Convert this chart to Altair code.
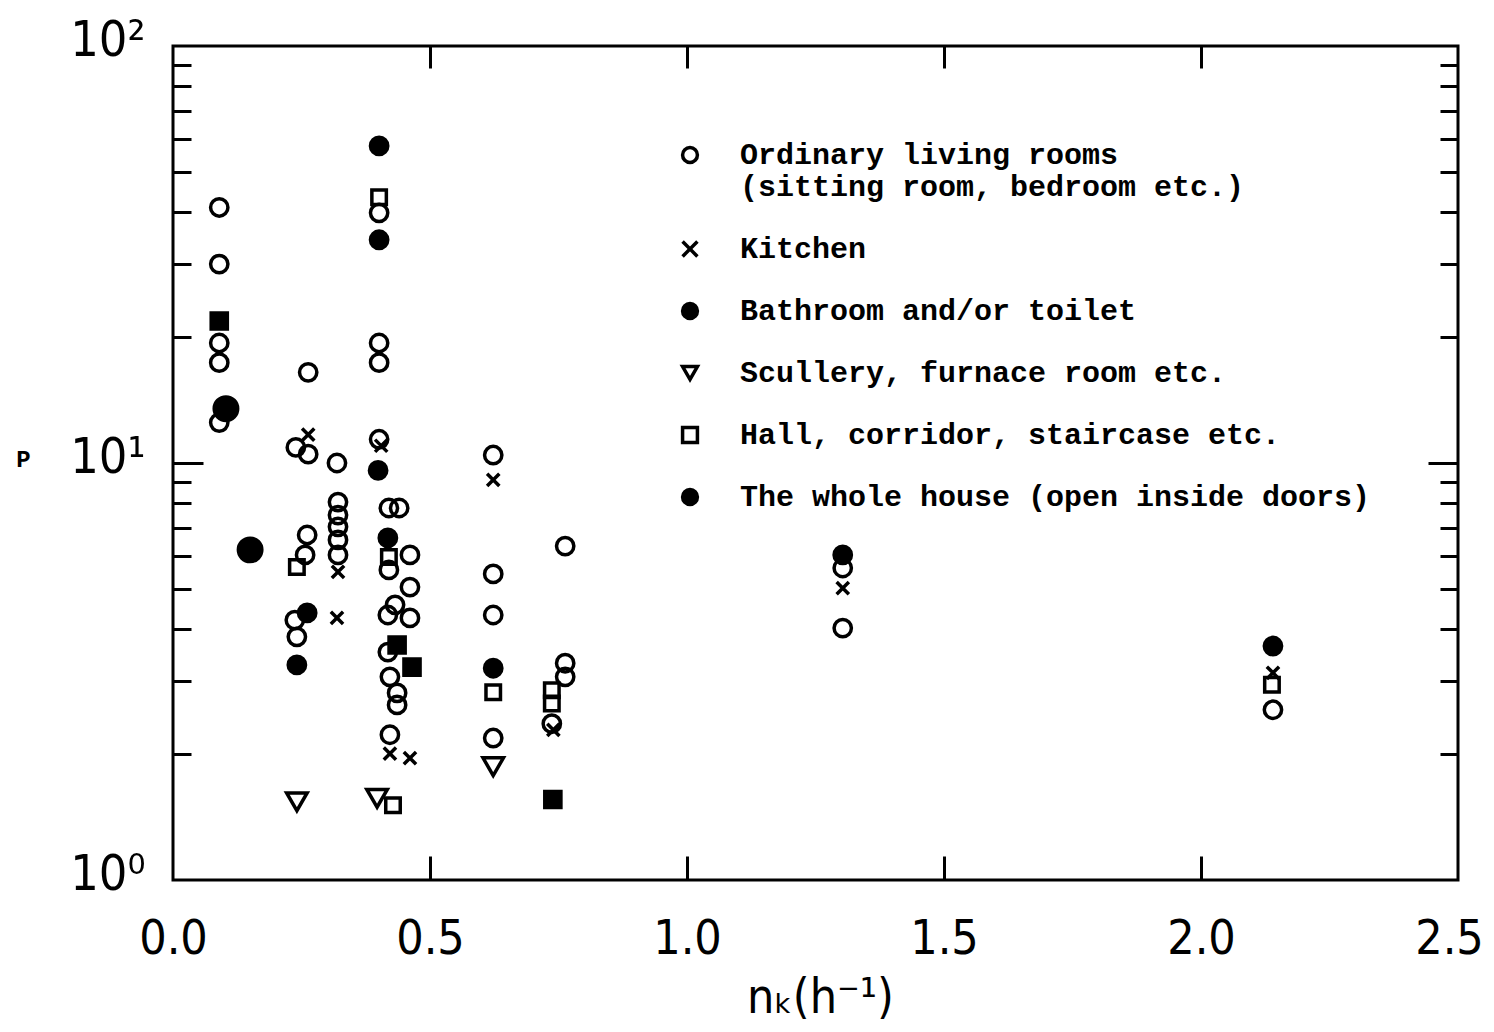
import altair as alt
import pandas as pd

# ---- data ----
living_x = [0.09, 0.09, 0.09, 0.09, 0.09, 0.239, 0.263, 0.263, 0.261, 0.257, 0.237, 0.241,
            0.319, 0.321, 0.321, 0.321, 0.321, 0.321, 0.401, 0.401, 0.401, 0.401,
            0.42, 0.44, 0.461, 0.42, 0.461, 0.432, 0.418, 0.461, 0.418, 0.422, 0.436, 0.436, 0.422,
            0.623, 0.623, 0.623, 0.623, 0.763, 0.763, 0.763, 0.737, 1.303, 1.303, 2.14]
living_y = [41.0, 30.0, 19.4, 17.4, 12.5, 10.9, 16.5, 10.5, 6.72, 6.02, 4.20, 3.83,
            10.0, 8.06, 7.50, 7.03, 6.54, 6.02, 39.8, 19.4, 17.4, 11.4,
            7.8, 7.8, 6.02, 5.54, 5.04, 4.57, 4.32, 4.25, 3.52, 3.07, 2.81, 2.63, 2.23,
            10.45, 5.42, 4.32, 2.19, 6.32, 3.31, 3.07, 2.37, 5.60, 4.02, 2.56]

kitchen_x = [0.263, 0.321, 0.319, 0.405, 0.422, 0.461, 0.623, 0.74, 1.303, 2.14]
kitchen_y = [11.7, 5.48, 4.25, 11.0, 2.01, 1.96, 9.11, 2.29, 5.01, 3.14]

bath_x = [0.401, 0.401, 0.399, 0.261, 0.241, 0.418, 0.623, 1.303, 2.14]
bath_y = [57.6, 34.3, 9.6, 4.37, 3.28, 6.61, 3.22, 6.02, 3.64]

scullery_x = [0.241, 0.397, 0.623]
scullery_y = [1.54, 1.57, 1.87]

hall_x = [0.241, 0.401, 0.42, 0.428, 0.623, 0.737, 0.737, 2.138]
hall_y = [5.63, 43.4, 5.95, 1.51, 2.82, 2.85, 2.65, 2.94]

house_x = [0.103, 0.150]
house_y = [13.5, 6.19]

filled_sq_x = [0.09, 0.436, 0.465, 0.739]
filled_sq_y = [21.9, 3.66, 3.24, 1.56]

x_ticks = [0.0, 0.5, 1.0, 1.5, 2.0]
x_last_tick = [2.5]
x_inner_ticks = [0.5, 1.0, 1.5, 2.0]
y_ticks = [1, 10, 100]
y_minor = [2, 3, 4, 5, 6, 7, 8, 9, 20, 30, 40, 50, 60, 70, 80, 90]

LIV = "Ordinary living rooms"
KIT = "Kitchen"
BAT = "Bathroom and/or toilet"
SCU = "Scullery, furnace room etc."
HAL = "Hall, corridor, staircase etc."
HOU = "The whole house (open inside doors)"
FSQ = "Filled square"

cats = [LIV, KIT, BAT, SCU, HAL, HOU, FSQ]
shapes = ["circle", "M-1,-1L1,1M1,-1L-1,1", "circle", "triangle-down", "square", "circle", "square"]
fills = ["transparent", "black", "black", "transparent", "transparent", "black", "black"]
strokes = ["black"] * 7

frames = []
for name, xs, ys in [(HAL, hall_x, hall_y), (SCU, scullery_x, scullery_y),
                     (KIT, kitchen_x, kitchen_y), (LIV, living_x, living_y),
                     (BAT, bath_x, bath_y), (FSQ, filled_sq_x, filled_sq_y),
                     (HOU, house_x, house_y)]:
    frames.append(pd.DataFrame({"x": xs, "y": ys, "cat": name}))
df = pd.concat(frames, ignore_index=True)

TICK_FONT = "Liberation Sans Narrow, DejaVu Sans Condensed, sans-serif"
LEG_FONT = "Liberation Mono, Courier New, monospace"

xscale = alt.Scale(domain=[0, 2.5], nice=False, zero=False)
yscale = alt.Scale(type="log", domain=[1, 100], nice=False)

leg = alt.Legend(
    title=None, orient="none", legendX=502, legendY=94, values=cats[:6],
    labelFont=LEG_FONT, labelFontSize=30, labelFontWeight="bold", labelColor="black",
    labelOffset=35, rowPadding=32, symbolStrokeColor="black", symbolStrokeWidth=3.5,
    symbolSize=220, labelLimit=0, padding=0,
    labelExpr="datum.label == 'Ordinary living rooms' ? ['Ordinary living rooms', '(sitting room, bedroom etc.)'] : datum.label",
)

size_enc = {
    "condition": [
        {"test": f"datum.cat == '{HOU}'", "value": 550},
        {"test": f"datum.cat == '{KIT}'", "value": 150},
        {"test": f"datum.cat == '{HAL}'", "value": 210},
        {"test": f"datum.cat == '{FSQ}'", "value": 260},
        {"test": f"datum.cat == '{SCU}'", "value": 420},
    ],
    "value": 300,
}

base = alt.Chart(df)

points = base.mark_point(filled=False, strokeWidth=3.5, opacity=1).encode(
    x=alt.X("x:Q", scale=xscale, axis=alt.Axis(
        orient="bottom", values=x_ticks, format=".1f", ticks=False, domain=False, grid=False,
        labelFlush=False, labelFont=TICK_FONT, labelFontSize=48, labelPadding=35, labelColor="black",
        title="nₖ(h⁻¹)", titleFont=TICK_FONT, titleFontSize=48, titleFontWeight="normal",
        titleColor="black", titleX=647, titleY=132, titleBaseline="alphabetic", titleAlign="center")),
    y=alt.Y("y:Q", scale=yscale, axis=alt.Axis(
        orient="left", values=y_ticks, ticks=False, domain=False, grid=False, labelFlush=False,
        labelExpr="datum.value == 1 ? '10⁰' : datum.value == 10 ? '10¹' : '10²'",
        labelFont=TICK_FONT, labelFontSize=50, labelPadding=28, labelOffset=-6, labelColor="black",
        title="P", titleAngle=0, titleX=-150, titleY=413, titleFont=LEG_FONT, titleFontSize=24,
        titleFontWeight="bold", titleBaseline="middle", titleAlign="center", titleColor="black")),
    shape=alt.Shape("cat:N", scale=alt.Scale(domain=cats, range=shapes), legend=leg),
    fill=alt.Fill("cat:N", scale=alt.Scale(domain=cats, range=fills), legend=leg),
    stroke=alt.Stroke("cat:N", scale=alt.Scale(domain=cats, range=strokes), legend=leg),
    size=size_enc,
)


def tick_axis(orient, values, length):
    return alt.Axis(orient=orient, values=values, offset=-length, tickSize=length, tickWidth=3,
                    tickColor="black", labels=False, domain=False, grid=False, title=None)


ghost = base.mark_point(opacity=0)
layer_b = ghost.encode(
    x=alt.X("x:Q", scale=xscale, axis=tick_axis("bottom", x_inner_ticks, 24)),
    y=alt.Y("y:Q", scale=yscale, axis=tick_axis("left", y_minor, 18)),
)
layer_c = ghost.encode(
    x=alt.X("x:Q", scale=xscale, axis=tick_axis("top", x_inner_ticks, 22)),
    y=alt.Y("y:Q", scale=yscale, axis=tick_axis("right", y_minor, 18)),
)
layer_d = ghost.encode(
    x=alt.X("x:Q", scale=xscale, axis=None),
    y=alt.Y("y:Q", scale=yscale, axis=tick_axis("left", [10], 30)),
)
layer_e = ghost.encode(
    x=alt.X("x:Q", scale=xscale, axis=None),
    y=alt.Y("y:Q", scale=yscale, axis=tick_axis("right", [10], 30)),
)
# last x label, nudged inward a little so it stays inside the page
layer_f = ghost.encode(
    x=alt.X("x:Q", scale=xscale, axis=alt.Axis(
        orient="bottom", values=x_last_tick, format=".1f", ticks=False, domain=False, grid=False,
        labelFlush=False, labelFont=TICK_FONT, labelFontSize=48, labelPadding=35, labelColor="black",
        labelOffset=-9, title=None)),
    y=alt.Y("y:Q", scale=yscale, axis=None),
)

chart = alt.layer(points, layer_b, layer_c, layer_d, layer_e, layer_f).resolve_axis(
    x="independent", y="independent"
).properties(
    width=1285, height=834,
    autosize=alt.AutoSizeParams(type="none"),
    padding={"left": 165, "top": 38, "right": 27, "bottom": 144},
    background="white",
).configure_view(stroke="black", strokeWidth=3)

chart.save("out.html", embed_options={"renderer": "svg", "actions": False})
